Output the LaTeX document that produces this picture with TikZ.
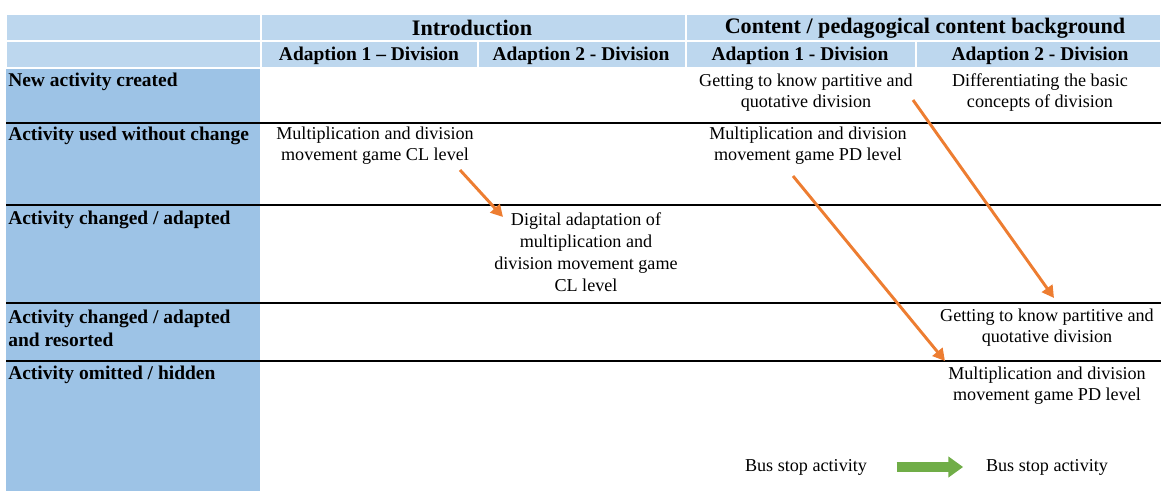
\documentclass[tikz,border=0pt]{standalone}
\usepackage{fontspec}
\setmainfont{Liberation Serif}
\usetikzlibrary{arrows.meta,positioning}
\definecolor{headblue}{RGB}{189,215,238}
\definecolor{sideblue}{RGB}{157,195,230}
\definecolor{moveorange}{RGB}{237,125,49}
\definecolor{busgreen}{RGB}{112,173,71}

\begin{document}
\begin{tikzpicture}[x=0.75pt,y=-0.75pt,
  head/.style={fill=headblue,draw=white,line width=1.2pt},
  act/.style={align=center,font=\fontsize{13.6}{15.8}\selectfont,inner sep=0pt},
  colhead/.style={font=\fontsize{14.6}{16}\selectfont\bfseries,inner sep=0pt},
  tophead/.style={font=\fontsize{16.6}{18}\selectfont\bfseries,inner sep=0pt},
  rowlab/.style={anchor=west,align=left,font=\fontsize{14.6}{17.2}\selectfont\bfseries,inner sep=0pt},
  move/.style={draw=moveorange,line width=2.2pt,-{Triangle[length=9pt,width=9.5pt]}}]
\useasboundingbox (0,0) rectangle (1161,491);

% header and side column
\path[head] (6,14) rectangle (261,41) (261,14) rectangle (686,41) (686,14) rectangle (1161,41);
\path[head] (6,41) rectangle (261,68) (261,41) rectangle (478,68) (478,41) rectangle (686,68)
            (686,41) rectangle (916,68) (916,41) rectangle (1161,68);
\fill[sideblue] (6,69) rectangle (260,491);
\foreach \y in {123,205,303,361}
  \draw[line width=1.1pt] (6,\y) -- (1161,\y);

\node[tophead] (intro) at (472,28) {Introduction};
\node[tophead] (content) at (925,28) {Content / pedagogical content background};
\node[colhead] (h1) at (369,55.5) {Adaption 1 -- Division};
\node[colhead] (h2) at (581,55.5) {Adaption 2 - Division};
\node[colhead] (h3) at (800,55.5) {Adaption 1 - Division};
\node[colhead] (h4) at (1040,55.5) {Adaption 2 - Division};

% rows
\node[rowlab] (r1) at (8,82) {New activity created};
\node[rowlab] (r2) at (8,136) {Activity used without change};
\node[rowlab] (r3) at (8,220) {Activity changed / adapted};
\node[rowlab] (r4) at (8,328.5) {Activity changed / adapted\\and resorted};
\node[rowlab] (r5) at (8,375) {Activity omitted / hidden};

% activities
\node[act] (know1) at (806,92.5) {Getting to know partitive and\\quotative division};
\node[act] (basic) at (1040,92.5) {Differentiating the basic\\concepts of division};
\node[act] (cl) at (375,145.5) {Multiplication and division\\movement game CL level};
\node[act] (pd1) at (808,145.5) {Multiplication and division\\movement game PD level};
\node[act,font=\fontsize{13.6}{16.5}\selectfont] (digital) at (586,252) {Digital adaptation of\\multiplication and\\division movement game\\CL level};
\node[act] (know2) at (1047,327.5) {Getting to know partitive and\\quotative division};
\node[act] (pd2) at (1047,385.5) {Multiplication and division\\movement game PD level};

\coordinate (clout) at (460,170);
\coordinate (digin) at (503,217);
\coordinate (basicout) at (913,100);
\coordinate (know2in) at (1054,298);
\coordinate (pdout) at (793,176);
\coordinate (pd2in) at (945,361);
\draw[move] (clout) -- (digin);
\draw[move] (basicout) -- (know2in);
\draw[move] (pdout) -- (pd2in);

% legend
\node[act] (bus1) at (806,467) {Bus stop activity};
\node[act] (bus2) at (1047,467) {Bus stop activity};
\draw[busgreen,line width=7.5pt,-{Triangle[length=11pt,width=15pt]},shorten <=22pt,shorten >=17pt] (bus1.east) -- (bus2.west);
\end{tikzpicture}
\end{document}
